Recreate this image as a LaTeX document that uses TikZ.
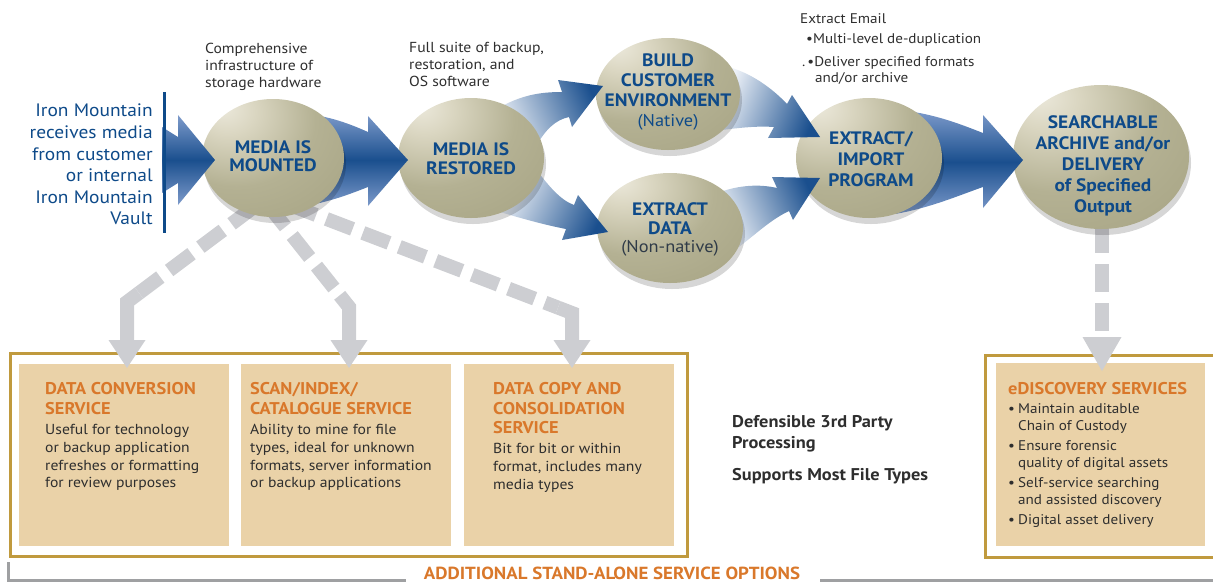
\documentclass[tikz,border=0pt]{standalone}
\usepackage{fontspec}
\setmainfont{PT Sans}[FakeStretch=1.08]
\usetikzlibrary{shapes.geometric,arrows.meta,shadows}

\definecolor{imblue}{HTML}{0E4A89}
\definecolor{arrowdark}{HTML}{1A4F8E}
\definecolor{arrowlight}{HTML}{7E9BCB}
\definecolor{tailwhite}{HTML}{EEF2F8}
\definecolor{ballA}{HTML}{ECE9DC}
\definecolor{ballB}{HTML}{DAD6C1}
\definecolor{ballC}{HTML}{B4B193}
\definecolor{ballD}{HTML}{A8A585}
\definecolor{ballE}{HTML}{9E9B7B}
\definecolor{gdash}{HTML}{CDCED2}
\definecolor{gold}{HTML}{C09A3E}
\definecolor{tanfill}{HTML}{EAD2A8}
\definecolor{orangeT}{HTML}{D9782B}
\definecolor{bodytxt}{HTML}{2E2E2E}
\definecolor{nntxt}{HTML}{2F3B48}
\definecolor{lineg}{HTML}{9FA0A2}

\pgfdeclareradialshading{ballshade}{\pgfpoint{-18bp}{22bp}}{%
 color(0bp)=(ballA); color(10bp)=(ballB); color(28bp)=(ballC); color(48bp)=(ballD); color(100bp)=(ballE)}

\newcommand{\edbul}{\makebox[10pt][l]{•}}
\newcommand{\edind}{\hspace*{10pt}}

\begin{document}
\begin{tikzpicture}[x=1pt,y=-1pt,
 ballnode/.style={ellipse, shade, shading=ballshade, draw=none, inner sep=0pt,
   drop shadow={shadow xshift=2pt, shadow yshift=-6pt, opacity=0.16, fill=black}},
 balltext/.style={align=center, text=imblue, inner sep=0pt, font=\bfseries\fontsize{18}{20}\selectfont},
 bluestraight/.style={top color=arrowlight, bottom color=arrowlight, middle color=arrowdark, draw=none},
 bluecurve/.style={left color=tailwhite, right color=arrowdark, draw=none},
 gdashed/.style={draw=gdash, line width=14pt, dash pattern=on 28pt off 11pt},
 gsolid/.style={draw=gdash, line width=14pt},
 ghead/.style={fill=gdash, draw=none},
 framebox/.style={draw=gold, line width=3pt, fill=white, inner sep=0pt},
 tanbox/.style={fill=tanfill, draw=none, inner sep=0pt},
 boxtitle/.style={anchor=north west, align=left, inner sep=0pt, text=orangeT, font=\bfseries\fontsize{17}{19.8}\selectfont},
 boxbody/.style={anchor=north west, align=left, inner sep=0pt, text=bodytxt, font=\fontsize{14.5}{17.8}\selectfont},
 annot/.style={anchor=north west, align=left, inner sep=0pt, text=bodytxt, font=\fontsize{14.5}{17}\selectfont},
 annotsm/.style={anchor=north west, align=left, inner sep=0pt, text=bodytxt, font=\fontsize{14}{17}\selectfont},
]
\useasboundingbox (0,0) rectangle (1213,582);

% ---------- frames and service boxes ----------
\node[framebox, minimum width=677pt, minimum height=203pt] (frameL) at (348.5,454.5) {};
\node[tanbox, minimum width=210pt, minimum height=182pt] (box1) at (124,455) {};
\node[tanbox, minimum width=210pt, minimum height=182pt] (box2) at (346,455) {};
\node[tanbox, minimum width=210pt, minimum height=182pt] (box3) at (569,455) {};
\node[framebox, minimum width=240pt, minimum height=202pt] (frameR) at (1105,456) {};
\node[tanbox, minimum width=209pt, minimum height=183pt] (box4) at (1100.5,454.5) {};

\node[boxtitle] (b1t) at (45,382) {DATA CONVERSION\\SERVICE};
\node[boxbody] (b1b) at (45,424) {Useful for technology\\or backup application\\refreshes or formatting\\for review purposes};
\node[boxtitle] (b2t) at (250,382) {SCAN/INDEX/\\CATALOGUE SERVICE};
\node[boxbody] (b2b) at (250,424) {Ability to mine for file\\types, ideal for unknown\\formats, server information\\or backup applications};
\node[boxtitle] (b3t) at (493,382) {DATA COPY AND\\CONSOLIDATION\\SERVICE};
\node[boxbody] (b3b) at (493,443) {Bit for bit or within\\format, includes many\\media types};
\node[boxtitle] (b4t) at (1008,382) {eDISCOVERY SERVICES};
\node[boxbody, font=\fontsize{14}{17.5}\selectfont] (b4b) at (1008,403) {\edbul Maintain auditable\\\edind Chain of Custody\\[2pt]\edbul Ensure forensic\\\edind quality of digital assets\\[2pt]\edbul Self-service searching\\\edind and assisted discovery\\[2pt]\edbul Digital asset delivery};

\node[anchor=north west, align=left, inner sep=0pt, text=bodytxt, font=\bfseries\fontsize{17}{21}\selectfont] (mid) at (732,415) {Defensible 3rd Party\\Processing\\[11pt]Supports Most File Types};

% ---------- bottom bracket ----------
\coordinate (bl0) at (8,562);
\coordinate (bl1) at (8,580.5);
\coordinate (bl2) at (406,580.5);
\coordinate (br1) at (820,580.5);
\coordinate (br2) at (1215,580.5);
\draw[lineg, line width=3pt] (bl0) -- (bl1) -- (bl2);
\draw[lineg, line width=3pt] (br1) -- (br2);
\node[inner sep=0pt, text=orangeT, font=\bfseries\fontsize{17.5}{20}\selectfont] (optlbl) at (612,573) {ADDITIONAL STAND-ALONE SERVICE OPTIONS};

% ---------- grey dashed arrows ----------
\coordinate (g1s) at (254,207); \coordinate (g1p) at (139,293); \coordinate (g1c) at (127,302); \coordinate (g1e) at (127,341);
\draw[gdashed] (g1s) -- (g1p);
\draw[gsolid] (g1p) -- (g1c) -- (g1e);
\fill[ghead] (108.5,340) -- (145.5,340) -- (127,368) -- cycle;

\coordinate (g2s) at (268,205); \coordinate (g2p) at (339.7,295.3); \coordinate (g2c) at (349,307); \coordinate (g2e) at (349,341);
\draw[gdashed] (g2s) -- (g2p);
\draw[gsolid] (g2p) -- (g2c) -- (g2e);
\fill[ghead] (330.5,340) -- (367.5,340) -- (349,368) -- cycle;

\coordinate (g3s) at (290,205); \coordinate (g3p) at (558,307.6); \coordinate (g3c) at (572,313); \coordinate (g3e) at (572,341);
\draw[gdashed] (g3s) -- (g3p);
\draw[gsolid] (g3p) -- (g3c) -- (g3e);
\fill[ghead] (553.5,340) -- (590.5,340) -- (572,368) -- cycle;

\coordinate (g4s) at (1102,225); \coordinate (g4e) at (1102,337);
\draw[gdashed] (g4s) -- (g4e);
\fill[ghead] (1082.5,337) -- (1121.5,337) -- (1102,371) -- cycle;

% ---------- process chain ----------
\node[ballnode, minimum width=176pt, minimum height=144pt] (e6) at (1101,157) {};
\path[bluestraight] (900,110) .. controls (935,114) and (960,124) .. (983,133) -- (983,115) -- (1023,160) -- (983,208) -- (983,187) .. controls (960,195) and (930,208) .. (895,214) -- cycle;
\node[ballnode, minimum width=146pt, minimum height=120pt] (e5) at (869,158) {};
\path[bluecurve, shading angle=68] (725,66) .. controls (750,72) and (772,88) .. (787,104) -- (792,95) -- (820,137) -- (768,138) -- (774,127) .. controls (760,126) and (745,127) .. (722,130) -- cycle;
\path[bluecurve, shading angle=114] (720,192) .. controls (740,185) and (760,184) .. (777,188) -- (772,177) -- (820,178) -- (793,220) -- (789,211) .. controls (770,220) and (755,235) .. (735,250) -- cycle;
\node[ballnode, minimum width=144pt, minimum height=112pt] (e3) at (668,94) {};
\node[ballnode, minimum width=146pt, minimum height=110pt] (e4) at (670,228) {};
\path[bluecurve, shading angle=114] (495,110) .. controls (520,95) and (540,92) .. (562,92) -- (558,80) -- (603,86) -- (572,127) -- (569,117) .. controls (555,120) and (545,130) .. (535,148) -- cycle;
\path[bluecurve, shading angle=64] (535,168) .. controls (548,185) and (560,200) .. (574,205) -- (578,195) -- (608,232) -- (562,240) -- (566,229) .. controls (545,225) and (520,218) .. (500,212) -- cycle;
\node[ballnode, minimum width=146pt, minimum height=120pt] (e2) at (471,158) {};
\path[bluestraight] (300,113) .. controls (330,116) and (350,124) .. (368,132) -- (368,116) -- (408,160) -- (368,206) -- (368,187) .. controls (350,194) and (330,202) .. (300,207) -- cycle;
\node[ballnode, minimum width=142pt, minimum height=118pt] (e1) at (273,158) {};
\path[bluestraight] (162,127) -- (178,137) -- (178,115) -- (215,160) -- (178,205) -- (178,183) -- (162,193) -- cycle;

\coordinate (vtop) at (164,92);
\coordinate (vbot) at (164,233);
\draw[imblue, line width=3pt] (vtop) -- (vbot);

% ---------- texts ----------
\node[anchor=north east, align=right, inner sep=0pt, text=imblue, font=\fontsize{18}{21.6}\selectfont] (src) at (153,104) {Iron Mountain\\receives media\\from customer\\or internal\\Iron Mountain\\Vault};

\node[balltext, font=\bfseries\fontsize{18}{18.5}\selectfont] (t1) at (273,156) {MEDIA IS\\MOUNTED};
\node[balltext, font=\bfseries\fontsize{18}{19}\selectfont] (t2) at (471,158.5) {MEDIA IS\\RESTORED};
\node[balltext] (t3) at (668,92) {BUILD\\CUSTOMER\\ENVIRONMENT\\{\mdseries\fontsize{17}{20}\selectfont(Native)}};
\node[balltext, font=\bfseries\fontsize{18}{18.5}\selectfont] (t4) at (670,229.5) {EXTRACT\\DATA\\{\mdseries\fontsize{17}{18.5}\selectfont\color{nntxt}(Non-native)}};
\node[balltext, font=\bfseries\fontsize{18}{21}\selectfont] (t5) at (871,159) {EXTRACT/\\IMPORT\\PROGRAM};
\node[balltext, font=\bfseries\fontsize{18}{21}\selectfont] (t6) at (1103,166) {SEARCHABLE\\ARCHIVE and/or\\DELIVERY\\of Specified\\Output};

\node[annot] (n1) at (205,42.5) {Comprehensive\\infrastructure of\\storage hardware};
\node[annot] (n2) at (409,42.5) {Full suite of backup,\\restoration, and\\OS software};
\node[annotsm] (n3) at (800,13) {Extract Email};
\node[annotsm] (n4) at (806,33) {•Multi-level de-duplication};
\node[annotsm] (n5) at (802,56) {.\hspace{2pt}•Deliver specified formats};
\node[annotsm] (n6) at (815,72.5) {and/or archive};
\end{tikzpicture}
\end{document}
